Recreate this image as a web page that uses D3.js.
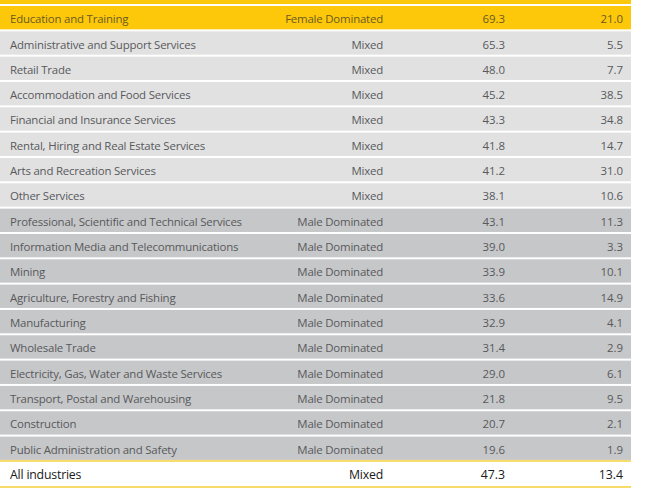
<!DOCTYPE html>
<html><head><meta charset="utf-8">
<script src="https://cdn.jsdelivr.net/npm/d3@7"></script>
<style>body{margin:0;background:#fff}svg{display:block}</style>
</head><body>
<svg id="c" width="650" height="488"></svg>
<script>
const industries = ["Education and Training","Administrative and Support Services","Retail Trade","Accommodation and Food Services","Financial and Insurance Services","Rental, Hiring and Real Estate Services","Arts and Recreation Services","Other Services","Professional, Scientific and Technical Services","Information Media and Telecommunications","Mining","Agriculture, Forestry and Fishing","Manufacturing","Wholesale Trade","Electricity, Gas, Water and Waste Services","Transport, Postal and Warehousing","Construction","Public Administration and Safety","All industries"];
const dominance = ["Female Dominated","Mixed","Mixed","Mixed","Mixed","Mixed","Mixed","Mixed","Male Dominated","Male Dominated","Male Dominated","Male Dominated","Male Dominated","Male Dominated","Male Dominated","Male Dominated","Male Dominated","Male Dominated","Mixed"];
const femaleShare = [69.3,65.3,48.0,45.2,43.3,41.8,41.2,38.1,43.1,39.0,33.9,33.6,32.9,31.4,29.0,21.8,20.7,19.6,47.3];
const secondValue = [21.0,5.5,7.7,38.5,34.8,14.7,31.0,10.6,11.3,3.3,10.1,14.9,4.1,2.9,6.1,9.5,2.1,1.9,13.4];

const svg = d3.select("#c");
const W = 631;
const pitch = 25.33, pad = 2 / pitch;
const y = d3.scaleBand().domain(d3.range(industries.length))
  .range([6, 6 + (industries.length - pad) * pitch]).paddingInner(pad).paddingOuter(0);
const last = industries.length - 1;
const fillFor = (d, i) => i === last ? "#ffffff" : d === "Female Dominated" ? "#fdc80a" : d === "Mixed" ? "#e1e1e2" : "#c6c7c9";
const textFor = (d, i) => i === last ? "#1a1a1a" : d === "Female Dominated" ? "#6b5a22" : "#58595b";

// header strip
svg.append("rect").attr("x",0).attr("y",0).attr("width",W).attr("height",4).attr("fill","#fdc80a");

const rows = svg.selectAll("g.row").data(industries).join("g").attr("class","row")
  .attr("transform",(d,i)=>`translate(0,${y(i)})`);
rows.append("rect").attr("x",0).attr("y",0).attr("width",W).attr("height",(d,i)=> i===last? 24: y.bandwidth())
  .attr("fill",(d,i)=>fillFor(dominance[i],i));

const font = "'Open Sans', sans-serif";
const tAttrs = (sel) => sel.attr("font-family",font).attr("font-size",(d,i)=> i===last? 12.3: 11.45)
  .attr("fill",(d,i)=>textFor(dominance[i],i)).attr("dy","0.35em").attr("y",y.bandwidth()/2 + 1.5);

rows.append("text").call(tAttrs).attr("x",10).attr("letter-spacing",-0.2).text(d=>d);
rows.append("text").call(tAttrs).attr("x",383).attr("text-anchor","end").attr("letter-spacing",-0.2).text((d,i)=>dominance[i]);
rows.append("text").call(tAttrs).attr("x",505).attr("text-anchor","end").text((d,i)=>d3.format(".1f")(femaleShare[i]));
rows.append("text").call(tAttrs).attr("x",623).attr("text-anchor","end").text((d,i)=>d3.format(".1f")(secondValue[i]));

// yellow lines around total row
svg.append("rect").attr("x",0).attr("y",y(last)-2).attr("width",W).attr("height",2).attr("fill","#f7dc6a");
svg.append("rect").attr("x",0).attr("y",486).attr("width",W).attr("height",2).attr("fill","#f7dc6a");
</script>
</body></html>
